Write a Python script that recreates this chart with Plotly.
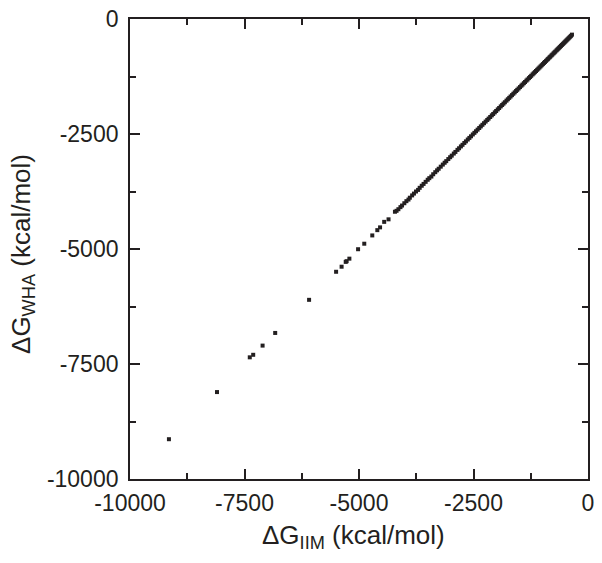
import plotly.graph_objects as go

# Sparse low-energy points (kcal/mol)
iim_sparse = [-9150, -8100, -7385, -7310, -7105, -6830, -6090, -5500, -5380, -5290,
              -5270, -5210, -5020, -4885, -4710, -4600, -4540, -4450, -4355]
wha_sparse = [-9135, -8110, -7355, -7300, -7100, -6825, -6105, -5495, -5385, -5280,
              -5265, -5210, -5005, -4885, -4705, -4590, -4530, -4410, -4355]

# Dense high-energy points (kcal/mol)
iim_dense = [-4215, -4180, -4140, -4095, -4060, -4010, -3965, -3920, -3890, -3840,
             -3800, -3755, -3710, -3675, -3630, -3590, -3545, -3500, -3465, -3420,
             -3380, -3335, -3295, -3260, -3215, -3170, -3130, -3095, -3050, -3010,
             -2975, -2930, -2895, -2850, -2815, -2775, -2740, -2700, -2665, -2625,
             -2590, -2555, -2515, -2480, -2445, -2410, -2375, -2340, -2305, -2270,
             -2235, -2200, -2170, -2135, -2100, -2070, -2035, -2005, -1970, -1940,
             -1905, -1875, -1845, -1815, -1780, -1750, -1720, -1690, -1660, -1630,
             -1600, -1570, -1545, -1515, -1485, -1455, -1430, -1400, -1375, -1345,
             -1320, -1290, -1265, -1240, -1210, -1185, -1160, -1135, -1110, -1085,
             -1060, -1035, -1010, -985, -960, -940, -915, -890, -870, -845,
             -825, -800, -780, -755, -735, -715, -690, -670, -650, -630,
             -610, -590, -570, -550, -530, -510, -490, -470, -450, -430,
             -410, -390, -370, -350]
wha_dense = [-4190, -4170, -4135, -4090, -4055, -4005, -3960, -3925, -3885, -3835,
             -3795, -3750, -3715, -3670, -3625, -3585, -3540, -3495, -3460, -3425,
             -3375, -3330, -3290, -3255, -3210, -3165, -3125, -3090, -3045, -3005,
             -2970, -2925, -2890, -2845, -2810, -2770, -2735, -2695, -2660, -2620,
             -2585, -2550, -2510, -2475, -2440, -2405, -2370, -2335, -2300, -2265,
             -2230, -2195, -2165, -2130, -2095, -2065, -2030, -2000, -1965, -1935,
             -1900, -1870, -1840, -1810, -1775, -1745, -1715, -1685, -1655, -1625,
             -1595, -1565, -1540, -1510, -1480, -1450, -1425, -1395, -1370, -1340,
             -1315, -1285, -1260, -1235, -1205, -1180, -1155, -1130, -1105, -1080,
             -1055, -1030, -1005, -980, -955, -935, -910, -885, -865, -840,
             -820, -795, -775, -750, -730, -710, -685, -665, -645, -625,
             -605, -585, -565, -545, -525, -505, -485, -465, -445, -425,
             -405, -385, -365, -340]

tick_vals = [-10000, -7500, -5000, -2500, 0]
tick_text = ["-10000", "-7500", "-5000", "-2500", "0"]
x_title = "ΔG<sub>IIM</sub> (kcal/mol)"
y_title = "ΔG<sub>WHA</sub> (kcal/mol)"

x = iim_sparse + iim_dense
y = wha_sparse + wha_dense

AX = "#231f20"
FONT = "Liberation Sans, Arial, sans-serif"

fig = go.Figure(go.Scatter(
    x=x, y=y, mode="markers",
    marker=dict(symbol="square", size=4, color=AX, line=dict(width=0)),
))

axis_common = dict(
    range=[-10000, 0],
    automargin=False,
    tickmode="array", tickvals=tick_vals, ticktext=tick_text,
    ticklabeloverflow="allow",
    ticks="inside", ticklen=10, tickwidth=1.6, tickcolor=AX,
    minor=dict(tickmode="linear", tick0=0, dtick=1250, ticks="inside",
               ticklen=6, tickwidth=1.6, tickcolor=AX),
    showline=True, linecolor=AX, linewidth=1.8, mirror="ticks",
    showgrid=False, zeroline=False,
    tickfont=dict(family=FONT, size=23, color=AX),
)

fig.update_xaxes(**axis_common, ticklabelstandoff=2)
fig.update_yaxes(**axis_common, ticklabelstandoff=5)

title_font = dict(family=FONT, size=26, color=AX)
fig.add_annotation(text=x_title, xref="paper", yref="paper", x=0.489, y=-0.126,
                   xanchor="center", yanchor="middle", showarrow=False, font=title_font)
fig.add_annotation(text=y_title, xref="paper", yref="paper", x=-0.236, y=0.489,
                   xanchor="center", yanchor="middle", showarrow=False,
                   textangle=-90, font=title_font)

fig.update_layout(
    width=602, height=563,
    margin=dict(l=130, r=14, t=19, b=84),
    paper_bgcolor="white", plot_bgcolor="white",
    showlegend=False,
)

# remove the default page margin so the figure sits at the window's corner
fig.write_html("out.html", config={"displayModeBar": False},
               post_script="document.body.style.margin='0';")
